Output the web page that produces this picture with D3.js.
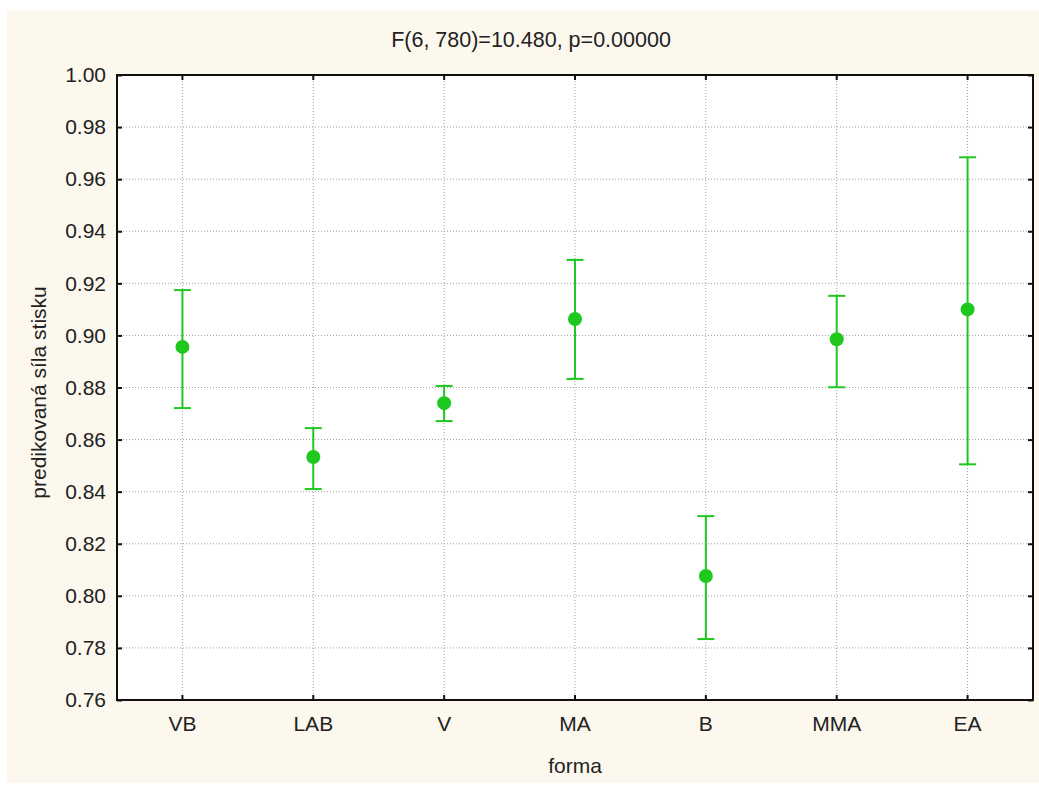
<!DOCTYPE html>
<html><head><meta charset="utf-8">
<script src="https://cdn.jsdelivr.net/npm/d3@7"></script>
<style>
body{margin:0;background:#fff;}
text{font-family:"Liberation Sans",Arial,sans-serif;fill:#222;}
</style></head>
<body>
<script>
const categories = ["VB","LAB","V","MA","B","MMA","EA"];
const means = [0.8956, 0.8533, 0.8740, 0.9063, 0.8076, 0.8985, 0.9100];
const upper = [0.9174, 0.8644, 0.8806, 0.9290, 0.8306, 0.9152, 0.9684];
const lower = [0.8721, 0.8410, 0.8671, 0.8833, 0.7834, 0.8801, 0.8505];
const yTicks = [0.76,0.78,0.80,0.82,0.84,0.86,0.88,0.90,0.92,0.94,0.96,0.98,1.00];
const titleText = "F(6, 780)=10.480, p=0.00000";
const xTitle = "forma";
const yTitle = "predikovaná síla stisku";

const W = 1039, H = 789;
const m = {left:117, top:75, right:1033, bottom:700};
const green = "#1ec81e";
const fs = 21;

const svg = d3.select("body").append("svg").attr("width",W).attr("height",H);
svg.append("rect").attr("x",7).attr("y",10).attr("width",W-7).attr("height",773).attr("fill","#fcf8ee");
svg.append("rect").attr("x",m.left).attr("y",m.top).attr("width",m.right-m.left).attr("height",m.bottom-m.top).attr("fill","#fff");

const x = d3.scaleBand().domain(categories).range([m.left,m.right]);
const y = d3.scaleLinear().domain([0.76,1.00]).range([m.bottom,m.top]);
const cx = d => x(d)+x.bandwidth()/2;

// grid
svg.append("g").selectAll("line").data(yTicks.filter(t=>t>0.761&&t<0.999)).join("line")
  .attr("x1",m.left).attr("x2",m.right).attr("y1",d=>y(d)).attr("y2",d=>y(d))
  .attr("stroke","#a0a0a0").attr("stroke-width",1).attr("stroke-dasharray","1,2");
svg.append("g").selectAll("line").data(categories).join("line")
  .attr("x1",cx).attr("x2",cx).attr("y1",m.top).attr("y2",m.bottom)
  .attr("stroke","#a0a0a0").attr("stroke-width",1).attr("stroke-dasharray","1,2");

// axes (ticks inward)
const yAxisL = d3.axisLeft(y).tickValues(yTicks).tickFormat(d3.format(".2f")).tickSizeInner(-5).tickSizeOuter(0).tickPadding(11);
const gL = svg.append("g").attr("transform",`translate(${m.left},0)`).call(yAxisL);
gL.selectAll("text").attr("font-size",fs).style("fill","#222");
const gR = svg.append("g").attr("transform",`translate(${m.right},0)`).call(d3.axisRight(y).tickValues(yTicks).tickSizeInner(-5).tickSizeOuter(0).tickFormat(""));
const xAxisB = d3.axisBottom(x).tickSizeInner(-5).tickSizeOuter(0).tickPadding(16);
const gB = svg.append("g").attr("transform",`translate(0,${m.bottom})`).call(xAxisB);
gB.selectAll("text").attr("font-size",fs).style("fill","#222");
const gT = svg.append("g").attr("transform",`translate(0,${m.top})`).call(d3.axisTop(x).tickSizeInner(-5).tickSizeOuter(0).tickFormat(""));
[gL,gR,gB,gT].forEach(g=>{g.select(".domain").remove(); g.selectAll(".tick line").attr("stroke","#111").attr("stroke-width",2);});

// frame
svg.append("rect").attr("x",m.left).attr("y",m.top).attr("width",m.right-m.left).attr("height",m.bottom-m.top)
  .attr("fill","none").attr("stroke","#111").attr("stroke-width",2);

// error bars
const data = categories.map((c,i)=>({c,m:means[i],u:upper[i],l:lower[i]}));
const eb = svg.append("g");
eb.selectAll(".v").data(data).join("line").attr("x1",d=>cx(d.c)).attr("x2",d=>cx(d.c))
  .attr("y1",d=>y(d.u)).attr("y2",d=>y(d.l)).attr("stroke",green).attr("stroke-width",2);
eb.selectAll(".cu").data(data).join("line").attr("x1",d=>cx(d.c)-8.5).attr("x2",d=>cx(d.c)+8.5)
  .attr("y1",d=>y(d.u)).attr("y2",d=>y(d.u)).attr("stroke",green).attr("stroke-width",2);
eb.selectAll(".cl").data(data).join("line").attr("x1",d=>cx(d.c)-8.5).attr("x2",d=>cx(d.c)+8.5)
  .attr("y1",d=>y(d.l)).attr("y2",d=>y(d.l)).attr("stroke",green).attr("stroke-width",2);
eb.selectAll("circle").data(data).join("circle").attr("cx",d=>cx(d.c)).attr("cy",d=>y(d.m)).attr("r",7).attr("fill",green);

// titles
svg.append("text").attr("x",531).attr("y",47).attr("text-anchor","middle").attr("font-size",fs+0.5).text(titleText);
svg.append("text").attr("x",(m.left+m.right)/2).attr("y",773).attr("text-anchor","middle").attr("font-size",fs).text(xTitle);
svg.append("text").attr("transform",`translate(46,${(m.top+m.bottom)/2+5}) rotate(-90)`).attr("text-anchor","middle").attr("font-size",fs).text(yTitle);
</script>
</body></html>
